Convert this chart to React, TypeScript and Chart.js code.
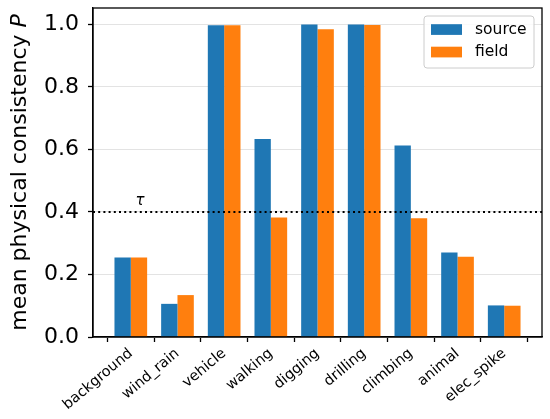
import { useEffect, useRef } from 'react';
import { Chart, registerables } from 'chart.js';

Chart.register(...registerables);

const categories = ['background', 'wind_rain', 'vehicle', 'walking', 'digging', 'drilling', 'climbing', 'animal', 'elec_spike'];
const sourceValues = [0.254, 0.106, 0.997, 0.633, 0.999, 0.999, 0.612, 0.27, 0.101];
const fieldValues = [0.254, 0.134, 0.997, 0.382, 0.984, 0.998, 0.38, 0.257, 0.1];
const yTicks = [0, 0.2, 0.4, 0.6, 0.8, 1.0];
const tau = 0.4;

const FONT = "'DejaVu Sans', sans-serif";

// matplotlib-style box around the axes
const framePlugin = {
	id: 'frame',
	afterDraw(chart: any) {
		const { ctx, chartArea: a } = chart;
		ctx.save();
		ctx.strokeStyle = '#000';
		ctx.lineWidth = 1.3;
		ctx.strokeRect(a.left, a.top, a.right - a.left, a.bottom - a.top);
		ctx.restore();
	},
};

const tauPlugin = {
	id: 'tau',
	afterDatasetsDraw(chart: any) {
		const { ctx, chartArea: a, scales } = chart;
		const y = scales.y.getPixelForValue(tau);
		ctx.save();
		ctx.strokeStyle = '#000';
		ctx.lineWidth = 2;
		ctx.setLineDash([2, 3.2]);
		ctx.beginPath();
		ctx.moveTo(a.left, y);
		ctx.lineTo(a.right, y);
		ctx.stroke();
		ctx.setLineDash([]);
		ctx.fillStyle = '#000';
		ctx.font = `italic 15px ${FONT}`;
		ctx.textAlign = 'center';
		ctx.textBaseline = 'alphabetic';
		ctx.fillText('τ', scales.x.getPixelForValue(0.2), scales.y.getPixelForValue(tau + 0.021));
		ctx.restore();
	},
};

const yTitlePlugin = {
	id: 'ytitle',
	afterDraw(chart: any) {
		const { ctx, chartArea: a } = chart;
		const main = 'mean physical consistency ';
		const sym = 'P';
		ctx.save();
		ctx.translate(26, (a.top + a.bottom) / 2);
		ctx.rotate(-Math.PI / 2);
		ctx.fillStyle = '#000';
		ctx.textBaseline = 'alphabetic';
		ctx.textAlign = 'left';
		ctx.font = `22px ${FONT}`;
		const w1 = ctx.measureText(main).width;
		ctx.font = `italic 22px ${FONT}`;
		const w2 = ctx.measureText(sym).width;
		const start = -(w1 + w2) / 2;
		ctx.font = `22px ${FONT}`;
		ctx.fillText(main, start, 0);
		ctx.font = `italic 22px ${FONT}`;
		ctx.fillText(sym, start + w1, 0);
		ctx.restore();
	},
};

const legendPlugin = {
	id: 'boxLegend',
	afterDraw(chart: any) {
		const { ctx, chartArea: a } = chart;
		const w = 110;
		const h = 52;
		const x = a.right - 8 - w;
		const y = a.top + 8;
		ctx.save();
		ctx.fillStyle = 'rgba(255,255,255,0.8)';
		ctx.strokeStyle = '#cccccc';
		ctx.lineWidth = 1;
		ctx.beginPath();
		ctx.roundRect(x, y, w, h, 3);
		ctx.fill();
		ctx.stroke();
		ctx.font = `15.5px ${FONT}`;
		ctx.textBaseline = 'middle';
		ctx.textAlign = 'left';
		chart.data.datasets.forEach((ds: any, i: number) => {
			const cy = y + 13.5 + i * 22.5;
			ctx.fillStyle = ds.backgroundColor;
			ctx.fillRect(x + 7, cy - 5.3, 31, 10.7);
			ctx.fillStyle = '#000';
			ctx.fillText(ds.label, x + 51, cy);
		});
		ctx.restore();
	},
};

export default function App() {
	const canvasRef = useRef<HTMLCanvasElement>(null);

	useEffect(() => {
		if (!canvasRef.current) return;
		const chart = new Chart(canvasRef.current, {
			type: 'bar',
			data: {
				datasets: [
					{
						label: 'source',
						data: sourceValues.map((v, i) => ({ x: i, y: v })),
						backgroundColor: '#1f77b4',
						categoryPercentage: 0.7,
						barPercentage: 1.0,
					},
					{
						label: 'field',
						data: fieldValues.map((v, i) => ({ x: i, y: v })),
						backgroundColor: '#ff7f0e',
						categoryPercentage: 0.7,
						barPercentage: 1.0,
					},
				],
			},
			options: {
				animation: false,
				responsive: true,
				maintainAspectRatio: false,
				layout: { padding: { top: 8, right: 8, left: 0, bottom: 0 } },
				plugins: {
					legend: { display: false },
					tooltip: { enabled: false },
				},
				scales: {
					x: {
						type: 'linear',
						offset: false,
						min: -0.81,
						max: categories.length - 1 + 0.81,
						afterBuildTicks: (scale: any) => {
							scale.ticks = categories.map((_, i) => ({ value: i }));
						},
						afterFit: (scale: any) => {
							scale.height = 82;
							scale.paddingLeft = 0;
							scale.paddingRight = 0;
						},
						border: { color: '#000', width: 1.3 },
						grid: {
							drawOnChartArea: false,
							drawTicks: true,
							tickLength: 5,
							tickColor: '#000',
							tickWidth: 1.3,
						},
						ticks: {
							autoSkip: false,
							minRotation: 40,
							maxRotation: 40,
							padding: 3,
							color: '#000',
							font: { family: FONT, size: 14.5 },
							callback: (v: any) => categories[v as number] ?? '',
						},
					},
					y: {
						min: 0,
						max: 1.052,
						afterBuildTicks: (scale: any) => {
							scale.ticks = yTicks.map((v) => ({ value: v }));
						},
						afterFit: (scale: any) => {
							scale.width = 93;
							scale.paddingTop = 0;
							scale.paddingBottom = 0;
						},
						border: { color: '#000', width: 1.3 },
						grid: {
							color: '#e3e3e3',
							lineWidth: 1,
							tickLength: 5,
							tickColor: '#000',
							tickWidth: 1.3,
						},
						ticks: {
							padding: 9,
							color: '#000',
							font: { family: FONT, size: 22 },
							callback: (v: any) => Number(v).toFixed(1),
						},
					},
				},
			},
			plugins: [tauPlugin, framePlugin, yTitlePlugin, legendPlugin],
		});
		return () => chart.destroy();
	}, []);

	return (
		<div style={{ position: 'fixed', left: 0, top: 0, width: 550, height: 419, background: '#fff' }}>
			<canvas ref={canvasRef}></canvas>
		</div>
	);
}
